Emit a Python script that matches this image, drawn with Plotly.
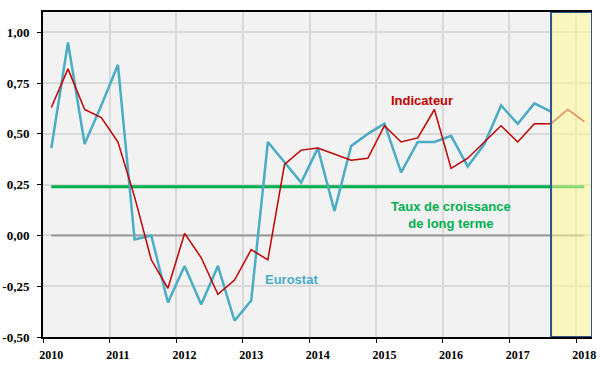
import plotly.graph_objects as go

# ---- data ----
years = [2010, 2011, 2012, 2013, 2014, 2015, 2016, 2017, 2018]
year_labels = ["2010", "2011", "2012", "2013", "2014", "2015", "2016", "2017", "2018"]

# quarterly observations, 2010-T1 onwards
eurostat = [0.43, 0.95, 0.45, 0.64, 0.84, -0.02, 0.00, -0.33, -0.15, -0.34, -0.15,
            -0.42, -0.32, 0.46, 0.36, 0.26, 0.43, 0.12, 0.44, 0.50, 0.55, 0.31,
            0.46, 0.46, 0.49, 0.34, 0.45, 0.64, 0.55, 0.65, 0.61]
indicateur = [0.63, 0.82, 0.62, 0.58, 0.46, 0.19, -0.12, -0.26, 0.01, -0.11, -0.29,
              -0.22, -0.07, -0.12, 0.35, 0.42, 0.43, 0.40, 0.37, 0.38, 0.54, 0.46,
              0.48, 0.62, 0.33, 0.38, 0.46, 0.54, 0.46, 0.55, 0.55, 0.62, 0.56]
taux_long_terme = 0.24

y_ticks = [-0.5, -0.25, 0.0, 0.25, 0.5, 0.75, 1.0]
y_labels = ["-0,50", "-0,25", "0,00", "0,25", "0,50", "0,75", "1,00"]

quarters = [(y, q) for y in years for q in (1, 2, 3, 4)]


def qpos(yq):
    y, q = yq
    return y + (q - 0.5) / 4.0


x_eur = [qpos(quarters[i]) for i in range(len(eurostat))]
x_ind = [qpos(quarters[i]) for i in range(len(indicateur))]
x_full = [x_ind[0], x_ind[-1]]

fig = go.Figure()
fig.add_trace(go.Scatter(x=x_full, y=[0, 0], mode="lines",
                         line=dict(color="#9a9a9a", width=2), hoverinfo="skip"))
fig.add_trace(go.Scatter(x=x_full, y=[taux_long_terme] * 2, mode="lines",
                         line=dict(color="#00b050", width=3), name="Taux de croissance de long terme"))
fig.add_trace(go.Scatter(x=x_eur, y=eurostat, mode="lines",
                         line=dict(color="#4bacc6", width=2.5), name="Eurostat"))
fig.add_trace(go.Scatter(x=x_ind, y=indicateur, mode="lines",
                         line=dict(color="#c00000", width=1.5), name="Indicateur"))

fig.add_shape(type="rect", xref="x", yref="y", x0=2017.625, x1=2018.24, y0=-0.5, y1=1.1,
              fillcolor="rgba(255,250,150,0.55)", line=dict(color="#2f5496", width=2),
              layer="above")

ann_font = dict(family="Liberation Sans", size=13, weight="bold")
fig.add_annotation(x=2015.69, y=0.665, text="Indicateur", showarrow=False,
                   font=dict(ann_font, color="#c00000"))
fig.add_annotation(x=2013.73, y=-0.217, text="Eurostat", showarrow=False,
                   font=dict(ann_font, color="#4bacc6"))
fig.add_annotation(x=2016.13, y=0.103, text="Taux de croissance<br>de long terme", showarrow=False,
                   font=dict(ann_font, color="#00b050"))

tick_font = dict(family="Liberation Serif", size=12, color="black", weight="bold")
fig.update_xaxes(range=[2010, 2018.24], automargin=False,
                 tickmode="array", tickvals=[y + 0.125 for y in years], ticktext=year_labels,
                 ticks="", showgrid=False, zeroline=False,
                 minor=dict(tickmode="array", tickvals=years, showgrid=True, gridcolor="#d9d9d9",
                            gridwidth=1.5, ticks="outside", ticklen=4, tickcolor="black", tickwidth=1),
                 showline=True, linecolor="black", linewidth=2, mirror=True,
                 tickfont=tick_font, ticklabelstandoff=6)
fig.update_yaxes(range=[-0.5, 1.1], automargin=False,
                 tickmode="array", tickvals=y_ticks, ticktext=y_labels,
                 ticks="outside", ticklen=4, tickcolor="black", showgrid=True,
                 gridcolor="#d9d9d9", gridwidth=1.5, zeroline=False,
                 showline=True, linecolor="black", linewidth=2,
                 tickfont=dict(tick_font, size=13), ticklabelstandoff=5)
fig.update_layout(width=600, height=371, margin=dict(l=43, r=8, t=12, b=34),
                  paper_bgcolor="white", plot_bgcolor="#f2f2f2", showlegend=False)

fig.write_html("out.html", config={"displayModeBar": False},
               post_script="document.body.style.margin='0px';")
